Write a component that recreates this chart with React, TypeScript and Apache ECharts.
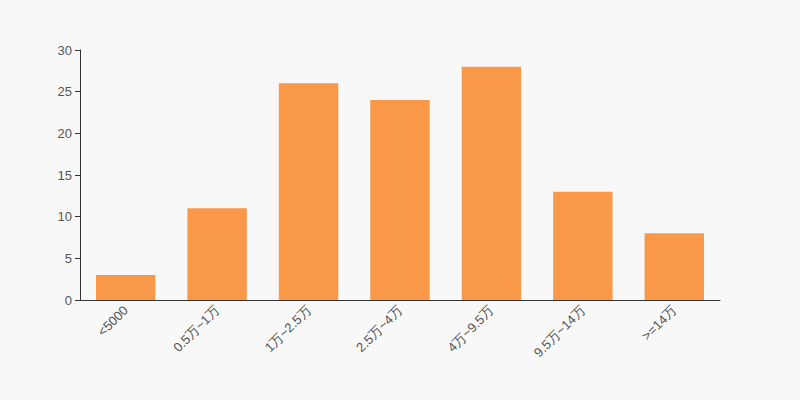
import React, { useEffect, useRef } from "react";
import * as echarts from "echarts";

const categories = ["<5000", "0.5万~1万", "1万~2.5万", "2.5万~4万", "4万~9.5万", "9.5万~14万", ">=14万"];
const values = [3, 11, 26, 24, 28, 13, 8];

export default function App() {
  const ref = useRef<HTMLDivElement>(null);
  useEffect(() => {
    const chart = echarts.init(ref.current!, null, { renderer: "svg" });
    const font = "'Liberation Sans', Arial, sans-serif";
    chart.setOption({
      animation: false,
      backgroundColor: "#f8f8f8",
      grid: { left: 80, right: 80, top: 50, bottom: 100 },
      xAxis: {
        type: "category",
        data: categories,
        axisLine: { lineStyle: { color: "#333" } },
        axisTick: { lineStyle: { color: "#333" } },
        axisLabel: { rotate: 45, color: "#555", fontSize: 13, fontFamily: font, interval: 0 },
      },
      yAxis: {
        type: "value",
        min: 0,
        max: 30,
        interval: 5,
        axisLine: { show: true, lineStyle: { color: "#333" } },
        axisTick: { show: true, lineStyle: { color: "#333" } },
        splitLine: { show: false },
        axisLabel: { color: "#555", fontSize: 13, fontFamily: font },
      },
      series: [
        {
          type: "bar",
          data: values,
          barWidth: "65%",
          itemStyle: { color: "#f89848" },
        },
      ],
    });
    return () => chart.dispose();
  }, []);
  return (
    <div
      ref={ref}
      style={{ position: "fixed", left: 0, top: 0, width: 800, height: 400 }}
    />
  );
}
